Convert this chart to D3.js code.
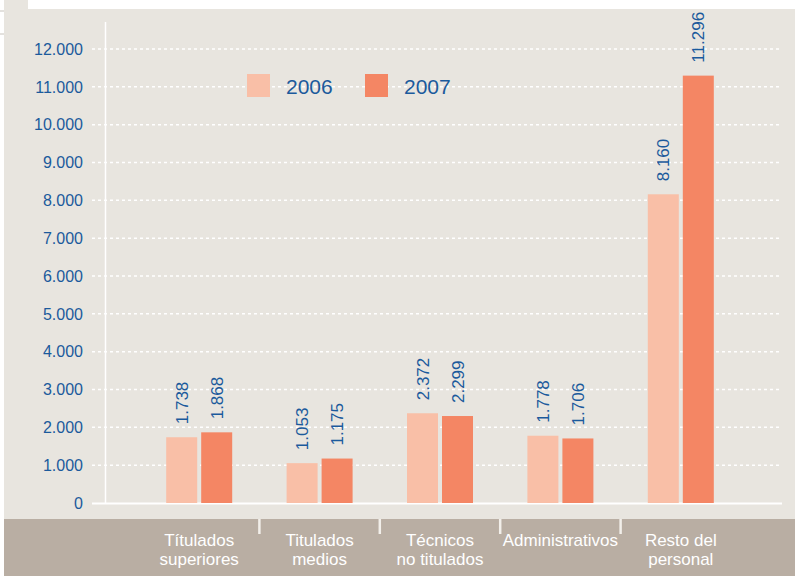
<!DOCTYPE html>
<html>
<head>
<meta charset="utf-8">
<script src="https://cdn.jsdelivr.net/npm/d3@7"></script>
<style>
    body { margin: 0; background: #fff; }
    svg { display: block; font-family: "Liberation Sans Narrow", "Liberation Sans", Arial, sans-serif; }
</style>
</head>
<body>
<script>
const categories = [
    ["Títulados", "superiores"],
    ["Titulados", "medios"],
    ["Técnicos", "no titulados"],
    ["Administrativos"],
    ["Resto del", "personal"]
];
const years = ["2006", "2007"];
const values2006 = [1738, 1053, 2372, 1778, 8160];
const values2007 = [1868, 1175, 2299, 1706, 11296];
const yTicks = [0, 1000, 2000, 3000, 4000, 5000, 6000, 7000, 8000, 9000, 10000, 11000, 12000];

const colours = ["#f9bfa7", "#f48664"];
const blue = "#1b5a9c";

const width = 795, height = 576;
const fmt = v => d3.format(",")(v).replace(/,/g, ".");

const svg = d3.select("body").append("svg")
    .attr("width", width)
    .attr("height", height);

// backgrounds
svg.append("rect").attr("x", 4).attr("y", 0).attr("width", width - 4).attr("height", height).attr("fill", "#e8e5df");
svg.append("rect").attr("x", 28).attr("y", 0).attr("width", width - 28).attr("height", 9).attr("fill", "#fff");
svg.append("rect").attr("x", 4).attr("y", 519).attr("width", width - 4).attr("height", height - 519).attr("fill", "#b9aea3");
svg.append("line").attr("x1", 0).attr("x2", 4).attr("y1", 11).attr("y2", 11).attr("stroke", "#c8c4bd");
svg.append("line").attr("x1", 0).attr("x2", 4).attr("y1", 34).attr("y2", 34).attr("stroke", "#c8c4bd");

const y = d3.scaleLinear().domain([0, 12000]).range([503, 49]);
const x = d3.scaleBand().domain(d3.range(categories.length)).range([139, 741]);
const barW = 31, barGap = 4;

// gridlines
svg.append("g").selectAll("line").data(yTicks.filter(t => t > 0)).enter()
    .append("line")
    .attr("x1", 92).attr("x2", 782)
    .attr("y1", d => y(d)).attr("y2", d => y(d))
    .attr("stroke", "#fff")
    .attr("stroke-width", 1.5)
    .attr("stroke-dasharray", "3,3");

// y axis line + baseline
svg.append("line").attr("x1", 105.5).attr("x2", 105.5).attr("y1", 22).attr("y2", y(0)).attr("stroke", "#fff").attr("stroke-width", 1.5);
svg.append("line").attr("x1", 92).attr("x2", 782).attr("y1", y(0) + 0.5).attr("y2", y(0) + 0.5).attr("stroke", "#fff").attr("stroke-width", 2);

// tick labels
svg.append("g").selectAll("text").data(yTicks).enter()
    .append("text")
    .attr("x", 83)
    .attr("y", d => y(d))
    .attr("dy", "0.36em")
    .attr("text-anchor", "end")
    .attr("fill", blue)
    .attr("font-size", 16)
    .text(d => fmt(d));

// bars
const series = [values2006, values2007];
series.forEach((vals, s) => {
    const g = svg.append("g");
    g.selectAll("rect").data(vals).enter()
        .append("rect")
        .attr("x", (d, i) => x(i) + x.bandwidth() / 2 + (s === 0 ? -barW - barGap / 2 : barGap / 2))
        .attr("y", d => y(d))
        .attr("width", barW)
        .attr("height", d => y(0) - y(d))
        .attr("fill", colours[s]);
    g.selectAll("text").data(vals).enter()
        .append("text")
        .attr("transform", (d, i) => {
            const cx = x(i) + x.bandwidth() / 2 + (s === 0 ? -barW / 2 - barGap / 2 : barW / 2 + barGap / 2);
            return `translate(${cx + 6}, ${y(d) - 13}) rotate(-90)`;
        })
        .attr("fill", blue)
        .attr("font-size", 17)
        .text(d => fmt(d));
});

// category separators
svg.append("g").selectAll("line").data(d3.range(1, categories.length)).enter()
    .append("line")
    .attr("x1", d => x(d)).attr("x2", d => x(d))
    .attr("y1", 519).attr("y2", 534)
    .attr("stroke", "#f2efea")
    .attr("stroke-width", 2.5);

// category labels
const cat = svg.append("g").selectAll("text").data(categories).enter()
    .append("text")
    .attr("x", (d, i) => x(i) + x.bandwidth() / 2)
    .attr("y", 546)
    .attr("text-anchor", "middle")
    .attr("fill", "#fff")
    .attr("font-size", 17);
cat.selectAll("tspan").data(d => d).enter()
    .append("tspan")
    .attr("x", function() { return this.parentNode.getAttribute("x"); })
    .attr("dy", (d, i) => i === 0 ? 0 : 19)
    .text(d => d);

// legend
const legend = svg.append("g").selectAll("g").data(years).enter()
    .append("g")
    .attr("transform", (d, i) => `translate(${247 + i * 118}, 74)`);
legend.append("rect").attr("width", 23).attr("height", 23).attr("fill", (d, i) => colours[i]);
legend.append("text").attr("x", 39).attr("y", 20).attr("fill", blue).attr("font-size", 21).text(d => d);
</script>
</body>
</html>
